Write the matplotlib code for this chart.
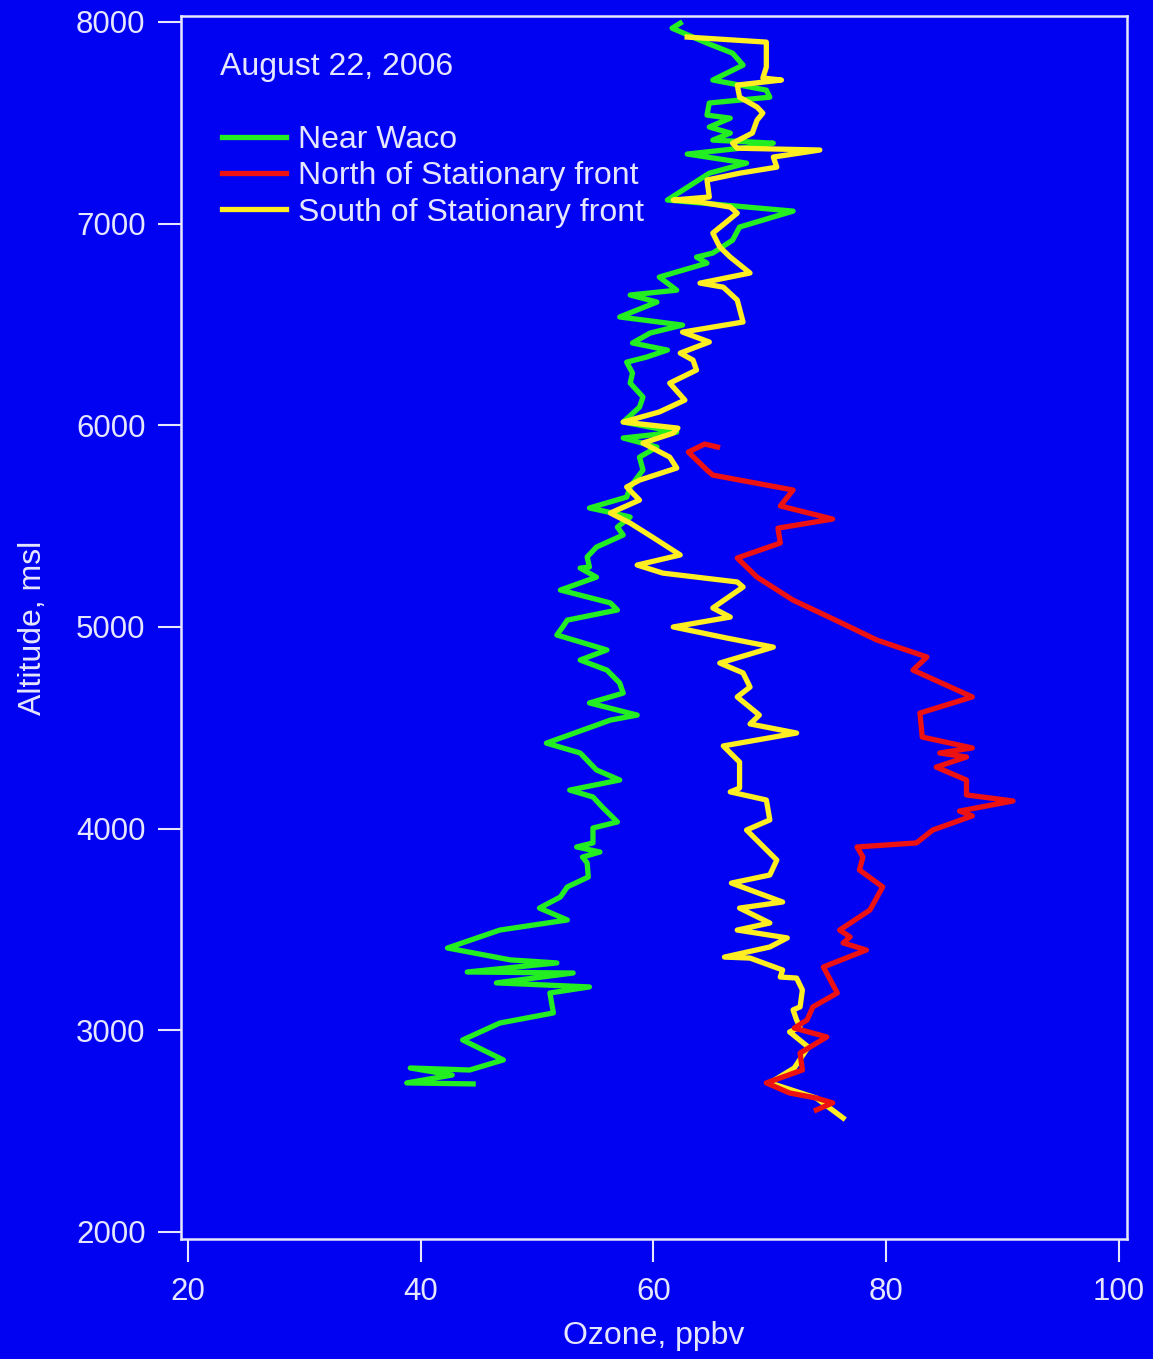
import numpy as np
import matplotlib
matplotlib.use("Agg")
import matplotlib.pyplot as plt

plt.rcParams['font.family'] = ['Liberation Sans', 'DejaVu Sans']

# ozone (ppbv) / altitude (m)
waco_o3 = [62.3, 61.6, 64.6, 66.8, 67.7, 65.1, 69.7, 70.0, 64.8, 64.6, 66.6, 64.8, 66.6, 65.1,
           70.3, 68.3, 62.9, 68.0, 64.8, 61.2, 72.0, 67.4, 66.8, 65.1, 63.7, 64.6, 60.5, 62.0,
           58.0, 60.3, 57.1, 62.5, 59.7, 58.2, 61.2, 59.4, 57.7, 58.2, 58.0, 59.1, 58.8, 57.4,
           62.0, 57.4, 60.3, 58.8, 59.1, 58.0, 57.7, 54.5, 56.5, 58.0, 56.9, 57.4, 55.1, 54.3,
           54.5, 53.7, 55.1, 52.0, 56.3, 56.9, 52.6, 52.2, 51.7, 56.0, 53.7, 56.0, 57.1, 57.4,
           54.5, 58.6, 56.3, 50.8, 53.7, 55.1, 57.1, 52.8, 54.8, 55.6, 56.9, 54.8, 54.8, 53.4,
           55.4, 53.9, 54.3, 54.4, 52.6, 52.0, 50.2, 52.6, 46.8, 42.3, 47.7, 51.7, 44.0, 53.1,
           46.5, 54.5, 51.1, 51.4, 46.8, 43.6, 47.1, 44.2, 39.1, 42.7, 38.8, 44.5]
waco_alt = [7994, 7969, 7895, 7845, 7786, 7712, 7662, 7627, 7598, 7538, 7523, 7479, 7449, 7414,
            7399, 7379, 7345, 7300, 7250, 7117, 7062, 6983, 6918, 6854, 6834, 6804, 6735, 6670,
            6646, 6611, 6537, 6497, 6457, 6408, 6373, 6338, 6313, 6259, 6209, 6140, 6090, 6016,
            5966, 5937, 5892, 5842, 5778, 5694, 5644, 5590, 5565, 5545, 5495, 5456, 5396, 5347,
            5297, 5292, 5247, 5183, 5119, 5084, 5034, 5000, 4960, 4886, 4836, 4786, 4722, 4672,
            4623, 4563, 4538, 4424, 4375, 4291, 4241, 4191, 4157, 4107, 4033, 4003, 3929, 3909,
            3884, 3859, 3830, 3760, 3711, 3661, 3606, 3547, 3497, 3408, 3349, 3334, 3289, 3284,
            3235, 3215, 3185, 3086, 3036, 2952, 2853, 2803, 2813, 2778, 2739, 2734]

north_o3 = [65.5, 64.4, 63.0, 64.6, 65.1, 72.0, 70.9, 75.4, 70.7, 70.9, 67.2, 68.9, 72.0, 76.0,
            79.2, 83.5, 82.3, 87.4, 82.9, 83.1, 87.4, 84.6, 86.9, 84.3, 86.9, 86.9, 90.9, 86.3,
            87.4, 84.0, 82.6, 77.5, 78.0, 77.7, 79.7, 78.6, 76.0, 76.9, 76.3, 78.3, 74.6, 75.8,
            73.7, 73.2, 72.1, 74.9, 72.6, 72.8, 69.7, 71.7, 74.0, 75.4, 74.0]
north_alt = [5892, 5907, 5867, 5778, 5753, 5679, 5600, 5535, 5490, 5416, 5342, 5247, 5133, 5024,
             4935, 4851, 4786, 4653, 4573, 4454, 4400, 4375, 4355, 4305, 4241, 4167, 4137, 4087,
             4063, 3993, 3929, 3909, 3859, 3795, 3711, 3596, 3497, 3463, 3433, 3398, 3314, 3185,
             3116, 3051, 3011, 2967, 2887, 2803, 2739, 2689, 2664, 2640, 2605]

south_o3 = [62.9, 69.7, 69.7, 69.4, 71.0, 67.2, 67.4, 68.9, 69.4, 68.9, 68.5, 66.8, 67.2, 74.3,
            70.3, 70.6, 67.4, 64.6, 64.8, 61.7, 64.0, 66.6, 67.2, 65.1, 65.7, 66.6, 68.3, 64.0,
            66.0, 67.2, 67.7, 62.5, 64.8, 62.3, 63.4, 63.7, 61.4, 62.7, 60.5, 57.4, 62.1, 61.7,
            59.1, 61.4, 62.0, 58.8, 57.7, 58.8, 56.3, 58.0, 59.9, 62.3, 58.6, 60.8, 67.2, 67.7,
            65.1, 66.6, 61.7, 66.3, 70.3, 65.7, 67.7, 68.3, 67.2, 69.1, 68.3, 72.3, 66.0, 67.4,
            67.4, 66.6, 69.7, 70.0, 68.0, 70.6, 70.0, 66.7, 71.1, 67.4, 70.0, 67.2, 71.5, 70.0,
            66.1, 68.3, 71.1, 70.9, 72.3, 72.8, 72.6, 72.0, 72.3, 72.6, 71.7, 73.3, 72.1, 70.0,
            74.0, 76.3]
south_alt = [7925, 7900, 7776, 7722, 7712, 7687, 7627, 7578, 7548, 7513, 7449, 7399, 7374, 7365,
             7330, 7280, 7250, 7216, 7132, 7117, 7107, 7082, 7052, 6953, 6884, 6834, 6755, 6705,
             6685, 6621, 6512, 6462, 6413, 6358, 6323, 6274, 6209, 6125, 6066, 6016, 5986, 5961,
             5912, 5842, 5788, 5728, 5694, 5629, 5565, 5515, 5446, 5357, 5307, 5267, 5223, 5198,
             5094, 5049, 5000, 4945, 4900, 4821, 4772, 4702, 4653, 4563, 4519, 4474, 4410, 4330,
             4201, 4182, 4142, 4043, 3993, 3844, 3770, 3730, 3636, 3606, 3532, 3497, 3458, 3413,
             3363, 3358, 3299, 3264, 3259, 3200, 3116, 3101, 3051, 3016, 2992, 2917, 2813, 2739,
             2664, 2565]

bg = '#0202f2'
fg = '#e6e6ff'

fig = plt.figure(figsize=(11.53, 13.59), dpi=100, facecolor=bg)
ax = fig.add_axes([0.157, 0.0883, 0.8205, 0.9])
ax.set_facecolor(bg)

l_w, = ax.plot(waco_o3, waco_alt, color='#22ee22', lw=3.8, zorder=3)
l_s, = ax.plot(south_o3, south_alt, color='#ffee22', lw=3.8, zorder=4)
l_n, = ax.plot(north_o3, north_alt, color='#ee1111', lw=3.8, zorder=5)

ax.set_xlim(19.4, 100.7)
ax.set_ylim(1965, 8030)
ax.set_xticks([20, 40, 60, 80, 100])
ax.set_yticks([2000, 3000, 4000, 5000, 6000, 7000, 8000])

for s in ax.spines.values():
    s.set_color(fg)
    s.set_linewidth(1.8)
ax.tick_params(colors=fg, labelcolor=fg, labelsize=22.5, length=16.5, width=1.5, direction='out')
ax.tick_params(axis='x', pad=11)
ax.tick_params(axis='y', pad=9)

ax.set_xlabel('Ozone, ppbv', color=fg, fontsize=23, labelpad=10)
ax.set_ylabel('Altitude, msl', color=fg, fontsize=23, labelpad=20)

ax.text(0.041, 0.958, 'August 22, 2006', transform=ax.transAxes, color=fg,
        fontsize=23, va='center', ha='left')

leg = ax.legend([l_w, l_n, l_s],
                ['Near Waco', 'North of Stationary front', 'South of Stationary front'],
                loc='upper left', bbox_to_anchor=(0.043, 0.911), frameon=False,
                fontsize=23, handlelength=2.0, handletextpad=0.4, labelspacing=0.2,
                borderpad=0, borderaxespad=0)
for t in leg.get_texts():
    t.set_color(fg)

fig.savefig('out.png', dpi=100, facecolor=bg)
